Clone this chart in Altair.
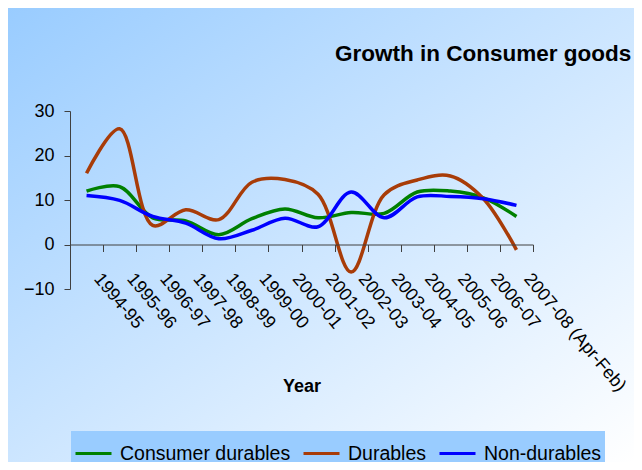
import altair as alt
import pandas as pd

years = ["1994-95", "1995-96", "1996-97", "1997-98", "1998-99", "1999-00", "2000-01",
         "2001-02", "2002-03", "2003-04", "2004-05", "2005-06", "2006-07", "2007-08 (Apr-Feb)"]
consumer_durables = [12.0, 13.0, 6.0, 5.3, 2.2, 5.8, 8.0, 6.0, 7.2, 7.0, 11.8, 12.0, 10.5, 6.3]
durables = [16.0, 26.0, 4.3, 7.8, 5.6, 14.0, 14.6, 11.3, -6.2, 11.2, 14.5, 15.4, 10.3, -1.2]
non_durables = [11.0, 9.9, 6.3, 4.8, 1.3, 3.2, 5.9, 4.0, 11.8, 6.0, 10.7, 10.8, 10.3, 8.8]

series_names = ["Consumer durables", "Durables", "Non-durables"]
series_colors = ["#008000", "#a83c08", "#0000ff"]

rows = []
for name, vals in zip(series_names, [consumer_durables, durables, non_durables]):
    for y, v in zip(years, vals):
        rows.append({"Year": y, "Series": name, "Growth": v})
df = pd.DataFrame(rows)

FONT = "Liberation Sans"
W, H = 463, 178
PL, PT, PR, PB = 62, 103, 101, 173

bg = alt.Chart(pd.DataFrame({"a": [0]})).mark_rect(
    color=alt.LinearGradient(
        gradient="linear",
        stops=[alt.GradientStop(color="#99ccff", offset=0),
               alt.GradientStop(color="#ffffff", offset=1)],
        x1=0, y1=0, x2=1, y2=1,
    )
).encode(
    x=alt.value(-PL), x2=alt.value(W + PR),
    y=alt.value(-PT), y2=alt.value(H + PB),
)

lines = alt.Chart(df).mark_line(interpolate="catmull-rom", strokeWidth=3.5).encode(
    x=alt.X("Year:N", sort=years, bandPosition=0.5,
            scale=alt.Scale(type="band", paddingInner=0, paddingOuter=0),
            axis=alt.Axis(
                title="Year", titleFont=FONT, titleFontSize=18, titleFontWeight="bold",
                titleColor="black", titleY=142, titleBaseline="middle",
                labelAngle=50, labelAlign="left", labelBaseline="middle",
                labelFont=FONT, labelFontSize=18, labelColor="black",
                labelPadding=24, labelOffset=10, labelOverlap=False, labelLimit=300,
                tickBand="extent", tickSize=7, tickColor="#404040",
                domainColor="#404040", offset=-44.5, grid=False, zindex=1,
            )),
    y=alt.Y("Growth:Q", scale=alt.Scale(domain=[-10, 30], nice=False),
            axis=alt.Axis(
                title=None, values=[-10, 0, 10, 20, 30], grid=False,
                labelFont=FONT, labelFontSize=18, labelColor="black", labelPadding=10,
                tickSize=6, tickColor="#404040", domainColor="#404040", zindex=1,
            )),
    color=alt.Color("Series:N", sort=series_names,
                    scale=alt.Scale(domain=series_names, range=series_colors),
                    legend=alt.Legend(
                        title=None, orient="none", direction="horizontal",
                        legendX=1, legendY=320,
                        fillColor="#99ccff", padding=3,
                        symbolType="stroke", symbolSize=1296, symbolStrokeWidth=3,
                        labelFont=FONT, labelFontSize=19.5, labelColor="black",
                        labelOffset=7, columnPadding=6, labelLimit=300, zindex=1,
                    )),
)

chart = alt.layer(bg, lines).properties(
    width=W, height=H,
    padding={"left": PL, "top": PT, "right": PR, "bottom": PB},
    autosize="none",
    title=alt.TitleParams(
        "Growth in Consumer goods", font=FONT, fontSize=22.5, fontWeight="bold",
        color="black", anchor="start", frame="group", dx=265, offset=0, dy=75,
        baseline="alphabetic", zindex=1,
    ),
).configure_view(stroke=None)

chart.save("out.html", embed_options={"renderer": "svg", "actions": False})
